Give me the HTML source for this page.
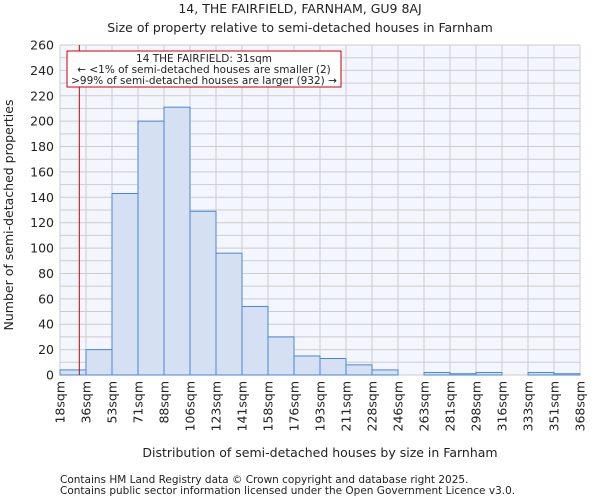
<!DOCTYPE html>
<html><head><meta charset="utf-8"><style>
body{margin:0;background:#fff;font-family:"DejaVu Sans","Liberation Sans",sans-serif;}
svg text{font-family:"DejaVu Sans","Liberation Sans",sans-serif;fill:#222;}
</style></head><body>
<svg id="chart" width="600" height="500" xmlns="http://www.w3.org/2000/svg">
<text x="300" y="13" text-anchor="middle" font-size="12.5">14, THE FAIRFIELD, FARNHAM, GU9 8AJ</text>
<text x="300" y="32" text-anchor="middle" font-size="12.5">Size of property relative to semi-detached houses in Farnham</text>
<rect x="60" y="45" width="520" height="330" fill="#f3f6fd"/>
<g id="grid"></g>
<g id="bars"></g>
<g id="yticks"></g>
<g id="xticks"></g>
<text transform="translate(13,215) rotate(-90)" text-anchor="middle" font-size="12.5">Number of semi-detached properties</text>
<text x="320" y="457" text-anchor="middle" font-size="12.5">Distribution of semi-detached houses by size in Farnham</text>
<line id="marker" y1="45" y2="375" stroke="#cc0000" stroke-width="1"/>
<rect x="67" y="51" width="274" height="36" fill="#fff" stroke="#cc0000" stroke-width="1"/>
<text x="204" y="62" text-anchor="middle" font-size="10.5">14 THE FAIRFIELD: 31sqm</text>
<text x="204" y="73" text-anchor="middle" font-size="10.5">← &lt;1% of semi-detached houses are smaller (2)</text>
<text x="204" y="84" text-anchor="middle" font-size="10.5">&gt;99% of semi-detached houses are larger (932) →</text>
<text x="60" y="483" font-size="10.5" fill="#555">Contains HM Land Registry data © Crown copyright and database right 2025.</text>
<text x="60" y="494" font-size="10.5" fill="#555">Contains public sector information licensed under the Open Government Licence v3.0.</text>
</svg>
<script>
const tickLabels=["18sqm","36sqm","53sqm","71sqm","88sqm","106sqm","123sqm","141sqm","158sqm","176sqm","193sqm","211sqm","228sqm","246sqm","263sqm","281sqm","298sqm","316sqm","333sqm","351sqm","368sqm"];
const binEdges=[18,35.5,53,70.5,88,105.5,123,140.5,158,175.5,193,210.5,228,245.5,263,280.5,298,315.5,333,350.5,368];
const counts=[4,20,143,200,211,129,96,54,30,15,13,8,4,0,2,1,2,0,2,1];
const yTicks=[0,20,40,60,80,100,120,140,160,180,200,220,240,260];
const markerValue=31;
const X0=60,X1=580,Y0=375,Y1=45;
const xs=v=>X0+(v-18)/(368-18)*(X1-X0);
const ys=v=>Y0-v/260*(Y0-Y1);
const NS="http://www.w3.org/2000/svg";
function mk(t,a,p){const e=document.createElementNS(NS,t);for(const k in a)e.setAttribute(k,a[k]);p.appendChild(e);return e;}
const grid=document.getElementById('grid');
for(let v=0;v<=260;v+=10){const l=mk('line',{x1:X0,x2:X1,y1:ys(v),y2:ys(v),stroke:'#cccccc','stroke-width':1},grid);

}
binEdges.forEach(e=>{const l=mk('line',{x1:xs(e),x2:xs(e),y1:Y1,y2:Y0,stroke:'#cccccc','stroke-width':1},grid);

});
const bars=document.getElementById('bars');
counts.forEach((c,i)=>{const x=xs(binEdges[i]),w=xs(binEdges[i+1])-x;const r=mk('rect',{x:x,y:ys(c),width:w,height:Y0-ys(c),fill:'#d6e0f3',stroke:'#4a86d8','stroke-width':1},bars);

});
const yt=document.getElementById('yticks');
yTicks.forEach(v=>{const t=mk('text',{x:X0-6,y:ys(v)+4.5,'text-anchor':'end','font-size':12.5},yt);t.textContent=v;

});
const xt=document.getElementById('xticks');
tickLabels.forEach((s,i)=>{const x=xs(binEdges[i]);const t=mk('text',{transform:`translate(${x+4.5},381) rotate(-90)`,'text-anchor':'end','font-size':12.5},xt);t.textContent=s;

});
const m=document.getElementById('marker');m.setAttribute('x1',xs(markerValue));m.setAttribute('x2',xs(markerValue));
</script>
</body></html>
